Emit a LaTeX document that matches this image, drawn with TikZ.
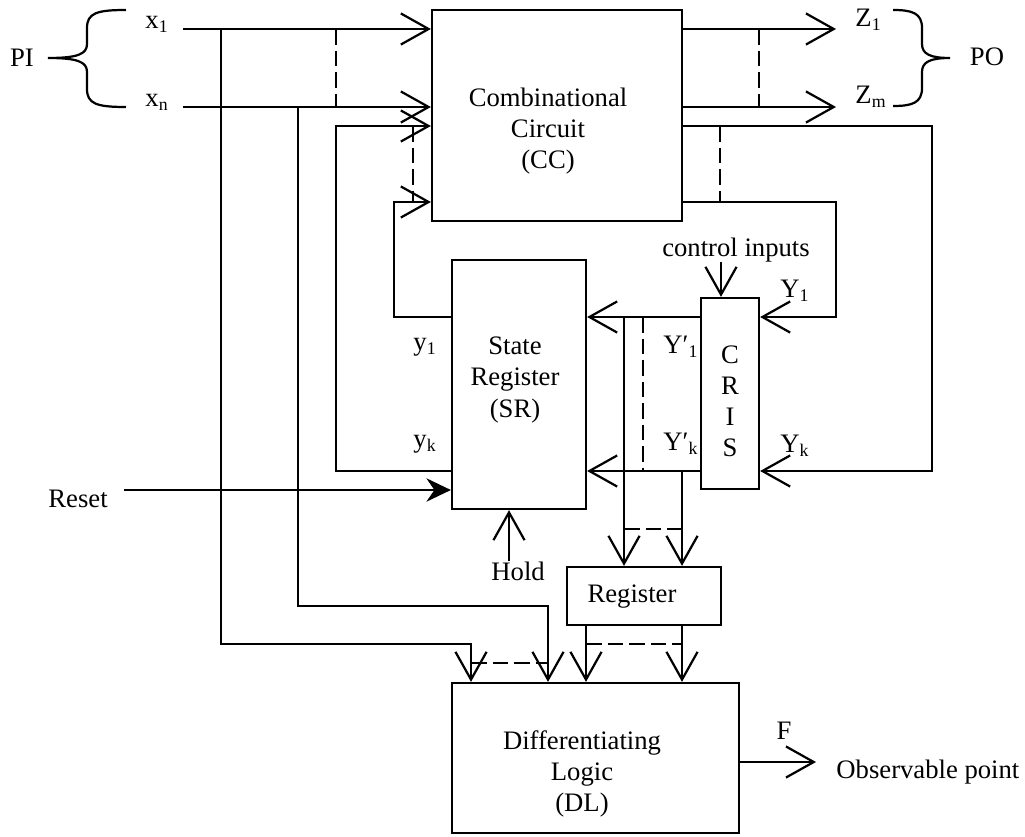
\documentclass[tikz,border=0pt]{standalone}
\usepackage{fontspec}
\setmainfont{Liberation Serif}
\usetikzlibrary{
  arrows.meta,
  positioning
}
\tikzset{
block/.style={
  draw,
  line width=1pt,
  inner sep=0pt
},
blocktext/.style={
  align=center,
  font=\fontsize{12}{14}\selectfont,
  inner sep=0pt
},
sigtext/.style={
  font=\fontsize{12}{14}\selectfont,
  inner sep=0pt
},
wire/.style={
  line width=1pt
},
arrow/.style={
  wire,
  -{Straight Barb[length=12.5pt,width=14pt]}
},
filledarrow/.style={
  wire,
  -{Stealth[length=11pt,width=10.5pt]}
},
dashedline/.style={
  wire,
  dash pattern=on 7pt off 2.7pt
},
brace/.style={
  line width=1pt
}
}

\begin{document}
\begin{tikzpicture}[x=0.45pt, y=-0.45pt]
      \useasboundingbox (0,0) rectangle (1025,836);

      % blocks
      \node[block, minimum width=112.5pt, minimum height=94.95pt] (cc) at (557,115.5) {};
      \node[block, minimum width=60.3pt, minimum height=112.05pt] (sr) at (519,384.5) {};
      \node[block, minimum width=26.1pt, minimum height=85.95pt] (cris) at (730,393.5) {};
      \node[block, minimum width=69.3pt, minimum height=26.1pt] (reg) at (644,596) {};
      \node[block, minimum width=129.15pt, minimum height=67.5pt] (dl) at (595.5,758) {};

      \node[blocktext] (cctext) at (548,131) {Combinational\\Circuit\\(CC)};
      \node[blocktext] (srtext) at (515,380) {State\\Register\\(SR)};
      \node[blocktext] (cristext) at (730,401) {C\\R\\I\\S};
      \node[blocktext] (regtext) at (632,597) {Register};
      \node[blocktext] (dltext) at (582,774) {Differentiating\\Logic\\(DL)};

      % signal names
      \node[sigtext] (pi) at (22,58) {PI};
      \node[sigtext, anchor=base west] (x1) at (145,29) {x\textsubscript{1}};
      \node[sigtext, anchor=base west] (xn) at (145,107) {x\textsubscript{n}};
      \node[sigtext, anchor=base west] (z1) at (855,27) {Z\textsubscript{1}};
      \node[sigtext, anchor=base west] (zm) at (855,104) {Z\textsubscript{m}};
      \node[sigtext] (po) at (987,57) {PO};
      \node[sigtext, anchor=base] (ctrl) at (736,256) {control inputs};
      \node[sigtext, anchor=base west] (Y1) at (780,297) {Y\textsubscript{1}};
      \node[sigtext, anchor=base west] (Yk) at (780,452) {Y\textsubscript{k}};
      \node[sigtext, anchor=base west] (yp1) at (663,353) {Y′\textsubscript{1}};
      \node[sigtext, anchor=base west] (ypk) at (663,450) {Y′\textsubscript{k}};
      \node[sigtext, anchor=base west] (y1) at (413,350) {y\textsubscript{1}};
      \node[sigtext, anchor=base west] (yk) at (413,447) {y\textsubscript{k}};
      \node[sigtext, anchor=base west] (reset) at (48,507) {Reset};
      \node[sigtext, anchor=base west] (hold) at (491,580) {Hold};
      \node[sigtext] (f) at (784,731) {F};
      \node[sigtext, anchor=base west] (obs) at (836,778) {Observable point};

      % wire levels and columns
      \coordinate (hx1) at (0,29);
      \coordinate (hxn) at (0,107);
      \coordinate (hyk) at (0,126);
      \coordinate (hy1) at (0,202);
      \coordinate (hY1) at (0,317);
      \coordinate (hYk) at (0,471);
      \coordinate (hrs) at (0,490);
      \coordinate (hrd) at (0,529);
      \coordinate (hb2) at (0,606);
      \coordinate (hb1) at (0,644);
      \coordinate (hdd) at (0,663);
      \coordinate (hf) at (0,762);
      \coordinate (vrs) at (124,0);
      \coordinate (vin) at (183,0);
      \coordinate (v1) at (221,0);
      \coordinate (v2) at (298,0);
      \coordinate (v3) at (336,0);
      \coordinate (v4) at (394,0);
      \coordinate (vd1) at (413,0);
      \coordinate (vdl1) at (471,0);
      \coordinate (vh) at (509,0);
      \coordinate (vdl2) at (548,0);
      \coordinate (vr1) at (586,0);
      \coordinate (vt1) at (624,0);
      \coordinate (vtd) at (643,0);
      \coordinate (vt2) at (682,0);
      \coordinate (vcd) at (720,0);
      \coordinate (vc) at (721,0);
      \coordinate (vzd) at (759,0);
      \coordinate (vf) at (816,0);
      \coordinate (vo) at (836,0);
      \coordinate (vk) at (932,0);

      % braces
      \draw[brace] (126,10) .. controls (97,10) and (87,13) .. (87,28) -- (87,44)
        .. controls (87,54) and (78,58) .. (48,58)
        .. controls (78,58) and (87,62) .. (87,72) -- (87,89)
        .. controls (87,104) and (97,107) .. (126,107);
      \draw[brace] (893,10) .. controls (912,10) and (922,13) .. (922,28) -- (922,44)
        .. controls (922,54) and (930,58) .. (950,58)
        .. controls (930,58) and (922,62) .. (922,72) -- (922,88)
        .. controls (922,103) and (912,106) .. (893,106);

      % primary inputs
      \draw[arrow] (vin |- hx1) -- (cc.west |- hx1);
      \draw[arrow] (vin |- hxn) -- (cc.west |- hxn);
      \draw[dashedline] (v3 |- hx1) -- (v3 |- hxn);

      % present state back to CC
      \draw[arrow] (sr.west |- hYk) -| (v3 |- hyk) -- (cc.west |- hyk);
      \draw[arrow] (sr.west |- hY1) -| (v4 |- hy1) -- (cc.west |- hy1);
      \draw[dashedline] (vd1 |- hyk) -- (vd1 |- hy1);

      % primary outputs
      \draw[arrow] (cc.east |- hx1) -- (vo |- hx1);
      \draw[arrow] (cc.east |- hxn) -- (vo |- hxn);
      \draw[dashedline] (vzd |- hx1) -- (vzd |- hxn);

      % next state to CRIS
      \draw[arrow] (cc.east |- hyk) -| (vk |- hYk) -- (cris.east |- hYk);
      \draw[arrow] (cc.east |- hy1) -| (vo |- hY1) -- (cris.east |- hY1);
      \draw[dashedline] (vcd |- hyk) -- (vcd |- hy1);
      \draw[arrow] (ctrl.south -| vc) -- (cris.north -| vc);

      % CRIS to SR and Register
      \draw[arrow] (cris.west |- hY1) -- (sr.east |- hY1);
      \draw[arrow] (cris.west |- hYk) -- (sr.east |- hYk);
      \draw[dashedline] (vtd |- hY1) -- (vtd |- hYk);
      \draw[arrow] (vt1 |- hY1) -- (vt1 |- reg.north);
      \draw[arrow] (vt2 |- hYk) -- (vt2 |- reg.north);
      \draw[dashedline] (vt1 |- hrd) -- (vt2 |- hrd);

      % Register to DL
      \draw[arrow] (vr1 |- reg.south) -- (vr1 |- dl.north);
      \draw[arrow] (vt2 |- reg.south) -- (vt2 |- dl.north);
      \draw[dashedline] (vr1 |- hb1) -- (vt2 |- hb1);

      % PI taps to DL
      \draw[arrow] (v1 |- hx1) |- (vdl1 |- hb1) -- (vdl1 |- dl.north);
      \draw[arrow] (v2 |- hxn) |- (vdl2 |- hb2) -- (vdl2 |- dl.north);
      \draw[dashedline] (vdl1 |- hdd) -- (vdl2 |- hdd);

      % Reset, Hold, F
      \draw[filledarrow] (vrs |- hrs) -- (sr.west |- hrs);
      \draw[arrow] (hold.north -| vh) -- (sr.south -| vh);
      \draw[arrow] (dl.east |- hf) -- (vf |- hf);
    \end{tikzpicture}
\end{document}
